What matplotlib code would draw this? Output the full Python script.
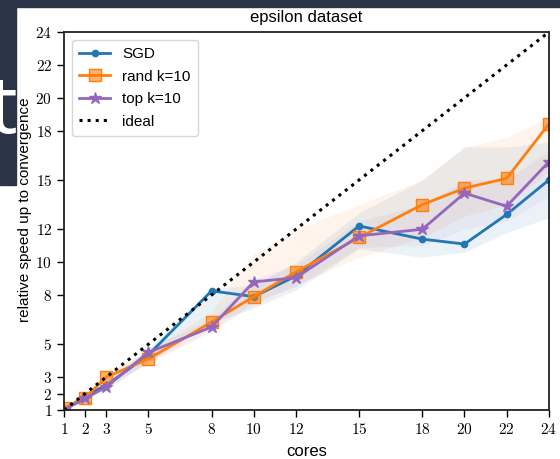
import numpy as np
import matplotlib
matplotlib.use("Agg")
import matplotlib.pyplot as plt
from matplotlib.patches import Rectangle
from matplotlib.ticker import FuncFormatter

plt.rcParams['font.family'] = ['Liberation Sans', 'DejaVu Sans']
plt.rcParams['mathtext.fontset'] = 'cm'

# Datos
cores = [1, 2, 3, 5, 8, 10, 12, 15, 18, 20, 22, 24]
ticks = [1, 2, 3, 5, 8, 10, 12, 15, 18, 20, 22, 24]

sgd = [1.0, 1.85, 2.5, 4.35, 8.25, 7.9, 9.15, 12.2, 11.4, 11.1, 12.9, 15.0]
sgd_lo = [1.0, 1.7, 2.3, 3.9, 6.3, 7.2, 8.3, 10.8, 10.3, 10.6, 11.8, 12.7]
sgd_hi = [1.0, 2.0, 2.8, 4.7, 8.4, 8.6, 10.0, 13.0, 15.0, 17.0, 17.0, 17.3]

rand = [1.1, 1.75, 3.0, 4.1, 6.35, 7.9, 9.4, 11.5, 13.5, 14.5, 15.1, 18.4]
rand_lo = [1.0, 1.6, 2.6, 3.8, 5.9, 7.4, 8.6, 10.3, 11.5, 12.8, 13.5, 15.5]
rand_hi = [1.2, 1.9, 3.2, 4.6, 7.0, 10.5, 12.0, 13.5, 15.0, 17.0, 17.6, 18.8]

top = [1.0, 1.7, 2.4, 4.5, 6.05, 8.8, 9.05, 11.6, 12.0, 14.2, 13.4, 16.1]
top_lo = [1.0, 1.6, 2.2, 4.0, 5.7, 7.6, 8.5, 10.9, 11.0, 12.0, 12.5, 14.0]
top_hi = [1.0, 1.9, 2.7, 4.8, 6.5, 9.0, 9.8, 12.5, 13.5, 15.0, 15.0, 16.8]

ideal = [1, 24]

fig = plt.figure(figsize=(5.6, 4.59), dpi=100)
ax = fig.add_axes([0.1143, 0.1068, 0.8657, 0.8232])

# fondo oscuro de la diapositiva
fig.patches.append(Rectangle((0, 1 - 7 / 459), 1, 7 / 459, transform=fig.transFigure,
                             color='#2b3347', zorder=-2))
fig.patches.append(Rectangle((0, 0.597), 16 / 560, 0.403, transform=fig.transFigure,
                             color='#2b3347', zorder=-2))
fig.text(-0.02, 0.71, 't', color='white', fontsize=58, family='Open Sans',
         ha='left', va='baseline', zorder=-1)

blue, orange, purple = '#1f77b4', '#ff7f0e', '#9467bd'

ax.fill_between(cores, sgd_lo, sgd_hi, color=blue, alpha=0.09, lw=0)
ax.fill_between(cores, rand_lo, rand_hi, color=orange, alpha=0.08, lw=0)
ax.fill_between(cores, top_lo, top_hi, color=purple, alpha=0.07, lw=0)

ax.plot(cores, sgd, color=blue, lw=2, marker='o', ms=4.5, label='SGD')
ax.plot(cores, rand, color=orange, lw=2, marker='s', ms=8,
        mfc=(1.0, 0.5, 0.05, 0.6), mec=orange, label='rand k=10')
ax.plot(cores, top, color=purple, lw=2, marker='*', ms=9, label='top k=10')
ax.plot(ideal, ideal, color='black', lw=2.2, ls=':', label='ideal')

ax.set_xlim(1, 24)
ax.set_ylim(1, 24)
ax.set_xticks(ticks)
ax.set_yticks(ticks)
fmt = FuncFormatter(lambda v, p: f'${int(v)}$')
ax.xaxis.set_major_formatter(fmt)
ax.yaxis.set_major_formatter(fmt)
ax.tick_params(direction='out', length=5, width=1, labelsize=11)
for s in ax.spines.values():
    s.set_linewidth(1.3)
    s.set_color('#222222')

ax.set_title('epsilon dataset', fontsize=12, pad=7)
ax.set_xlabel('cores', fontsize=12, labelpad=5)
ax.set_ylabel('relative speed up to convergence', fontsize=11)
ax.yaxis.set_label_coords(-0.067, 0.53)
ax.legend(loc='upper left', fontsize=11, labelspacing=0.55, handlelength=2.0,
          borderpad=0.5, fancybox=True)

plt.savefig('out.png', dpi=100)
